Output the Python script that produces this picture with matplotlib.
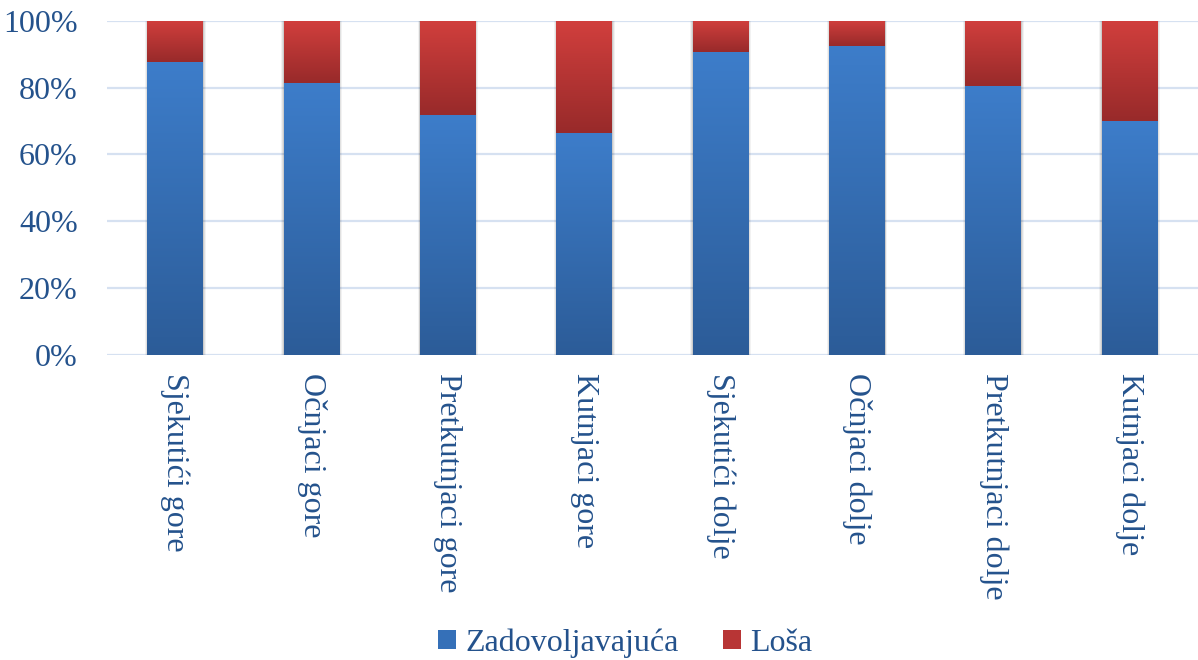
import numpy as np
import matplotlib.pyplot as plt
from matplotlib.colors import LinearSegmentedColormap
from matplotlib.patches import Patch
from matplotlib.ticker import FuncFormatter

categories = ["Sjekutići gore", "Očnjaci gore", "Pretkutnjaci gore", "Kutnjaci gore",
              "Sjekutići dolje", "Očnjaci dolje", "Pretkutnjaci dolje", "Kutnjaci dolje"]
zadovoljavajuca = [87.6, 81.5, 71.7, 66.5, 90.6, 92.4, 80.4, 69.9]
losa = [100 - v for v in zadovoljavajuca]
series_names = ["Zadovoljavajuća", "Loša"]

text_color = "#24528C"
blue_cmap = LinearSegmentedColormap.from_list("b", ["#2C5C98", "#3D7DCA"])
red_cmap = LinearSegmentedColormap.from_list("r", ["#982A2A", "#D13F3D"])

plt.rcParams['font.family'] = ['Liberation Serif', 'DejaVu Serif']

fig = plt.figure(figsize=(11.98, 6.6), dpi=100)
ax = fig.add_axes([107 / 1198, 1 - 354.7 / 660, 1 - 107 / 1198, (354.7 - 21) / 660])

w = 0.41
grad = np.linspace(0, 1, 256).reshape(-1, 1)
x = np.arange(len(categories))
for i, (b, r) in enumerate(zip(zadovoljavajuca, losa)):
    # soft shadow
    for extra, a in [(0.035, 0.05), (0.02, 0.07), (0.008, 0.09)]:
        ax.bar(x[i], 100 + extra * 3, width=w + extra, bottom=-extra * 3,
               color="#000000", alpha=a, linewidth=0, zorder=2)
    ax.imshow(grad, cmap=blue_cmap, aspect='auto', origin='lower',
              extent=[x[i] - w / 2, x[i] + w / 2, 0, b], zorder=3)
    ax.imshow(grad, cmap=red_cmap, aspect='auto', origin='lower',
              extent=[x[i] - w / 2, x[i] + w / 2, b, b + r], zorder=3)

ax.set_xlim(-0.5, len(categories) - 0.5)
ax.set_ylim(0, 100)
ax.set_yticks(np.arange(0, 101, 20))
ax.yaxis.set_major_formatter(FuncFormatter(lambda v, p: f"{v:.0f}%"))
ax.set_xticks(x)
ax.set_xticklabels(categories, rotation=-90, ha='center', va='top')
ax.tick_params(axis='both', length=0, labelsize=23, labelcolor=text_color)
ax.tick_params(axis='x', pad=13)
ax.tick_params(axis='y', pad=21)
ax.grid(axis='y', color="#D6E1F1", linewidth=1.6, zorder=0)
ax.set_axisbelow(True)
for s in ax.spines.values():
    s.set_visible(False)

handles = [Patch(facecolor="#3570B8", edgecolor='none'),
           Patch(facecolor="#B83535", edgecolor='none')]
fig.legend(handles, series_names, loc='center', bbox_to_anchor=(0.522, 0.026), ncol=2,
           frameon=False, fontsize=23, labelcolor=text_color,
           handlelength=0.55, handleheight=0.55, handletextpad=0.3, columnspacing=1.4)

fig.savefig("out.png", dpi=100)
